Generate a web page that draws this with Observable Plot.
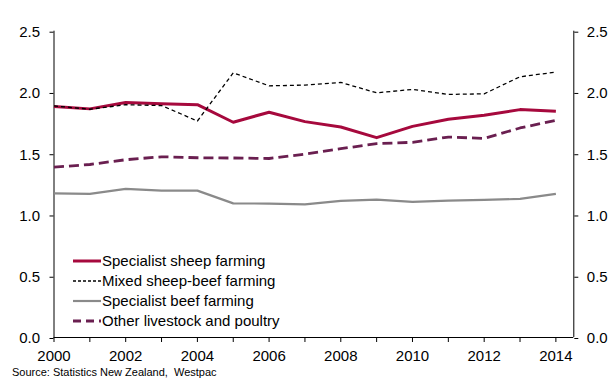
<!DOCTYPE html>
<html>
<head>
<meta charset="utf-8">
<script src="https://cdn.jsdelivr.net/npm/d3@7"></script>
<script src="https://cdn.jsdelivr.net/npm/@observablehq/plot@0.6"></script>
<style>
  html, body { margin: 0; padding: 0; background: #fff; }
  #chart { position: relative; width: 608px; height: 380px; font-family: "Liberation Sans", Arial, sans-serif; }
  #legend { position: absolute; left: 73px; top: 251px; font-size: 15px; color: #000; }
  #legend .row { display: flex; align-items: center; height: 19.9px; white-space: nowrap; }
  #legend svg { display: block; margin-right: 1px; }
  #source { font-size: 11px; color: #000; padding: 3px 0 0 12px; line-height: 14px; white-space: pre; }
</style>
</head>
<body>
<div id="chart"></div>
<script>
// Years on the category axis
const years = [2000, 2001, 2002, 2003, 2004, 2005, 2006, 2007, 2008, 2009, 2010, 2011, 2012, 2013, 2014];

// Series values (ratio)
const sheep = [1.885, 1.866, 1.918, 1.907, 1.900, 1.757, 1.839, 1.762, 1.718, 1.631, 1.723, 1.781, 1.814, 1.860, 1.847];
const mixed = [1.890, 1.863, 1.900, 1.893, 1.767, 2.160, 2.054, 2.060, 2.082, 1.997, 2.025, 1.984, 1.989, 2.128, 2.166];
const beef  = [1.177, 1.172, 1.213, 1.199, 1.199, 1.095, 1.093, 1.087, 1.115, 1.125, 1.107, 1.117, 1.123, 1.131, 1.172];
const other = [1.390, 1.412, 1.451, 1.475, 1.467, 1.465, 1.461, 1.497, 1.541, 1.582, 1.593, 1.636, 1.625, 1.710, 1.773];

// Series names
const seriesNames = ["Specialist sheep farming", "Mixed sheep-beef farming", "Specialist beef farming", "Other livestock and poultry"];

// Axis ticks
const xDomain = [2000, 2014.5];
const yTicks = [0, 0.5, 1.0, 1.5, 2.0, 2.5];

const sourceText = "Source: Statistics New Zealand,  Westpac";

const styles = [
  {name: seriesNames[0], values: sheep, stroke: "#a6093d", width: 3, dash: null},
  {name: seriesNames[1], values: mixed, stroke: "#000000", width: 1.3, dash: "4,3"},
  {name: seriesNames[2], values: beef,  stroke: "#8a8a8a", width: 2.2, dash: null},
  {name: seriesNames[3], values: other, stroke: "#6a1f50", width: 2.8, dash: "10,5"}
];

const rows = s => years.map((year, i) => ({year, value: s.values[i]}));
const lineMark = s => Plot.line(rows(s), {
  x: "year", y: "value", stroke: s.stroke, strokeWidth: s.width,
  strokeDasharray: s.dash ?? undefined, strokeLinejoin: "round", strokeLinecap: "butt"
});

const fmtYear = d => (d % 2 === 0 ? String(d) : "");

const plot = Plot.plot({
  width: 608,
  height: 362,
  marginLeft: 53.5,
  marginRight: 34.7,
  marginTop: 30.7,
  marginBottom: 25,
  style: {fontFamily: "'Liberation Sans', Arial, sans-serif", fontSize: "15px", color: "#000", background: "#fff", overflow: "visible"},
  x: {type: "linear", domain: xDomain},
  y: {domain: [0, 2.5]},
  marks: [
    Plot.axisX({ticks: years, tickFormat: fmtYear, tickSize: 5, tickPadding: 8, label: null}),
    Plot.axisY({anchor: "left", ticks: yTicks, tickFormat: d3.format(".1f"), tickSize: 4, tickPadding: 10, dy: 1, label: null}),
    Plot.axisY({anchor: "right", ticks: yTicks, tickFormat: d3.format(".1f"), tickSize: 4, tickPadding: 9, dy: 1, label: null}),
    Plot.ruleX(xDomain, {stroke: "#000", strokeWidth: 1}),
    Plot.ruleY([0], {stroke: "#000", strokeWidth: 1}),
    lineMark(styles[2]),
    lineMark(styles[3]),
    lineMark(styles[0]),
    lineMark(styles[1])
  ]
});

const chart = document.getElementById("chart");
chart.appendChild(plot);

// Legend with line samples
const legend = document.createElement("div");
legend.id = "legend";
for (const s of styles) {
  const row = document.createElement("div");
  row.className = "row";
  const ns = "http://www.w3.org/2000/svg";
  const sw = document.createElementNS(ns, "svg");
  sw.setAttribute("width", "28");
  sw.setAttribute("height", "8");
  const ln = document.createElementNS(ns, "line");
  ln.setAttribute("x1", "0"); ln.setAttribute("x2", "28");
  ln.setAttribute("y1", "4"); ln.setAttribute("y2", "4");
  ln.setAttribute("stroke", s.stroke);
  ln.setAttribute("stroke-width", s.width);
  if (s.dash) ln.setAttribute("stroke-dasharray", s.dash === "10,5" ? "8,5" : "3,2");
  sw.appendChild(ln);
  row.appendChild(sw);
  const t = document.createElement("span");
  t.textContent = s.name;
  row.appendChild(t);
  legend.appendChild(row);
}
chart.appendChild(legend);

const src = document.createElement("div");
src.id = "source";
src.textContent = sourceText;
chart.appendChild(src);
</script>
</body>
</html>
